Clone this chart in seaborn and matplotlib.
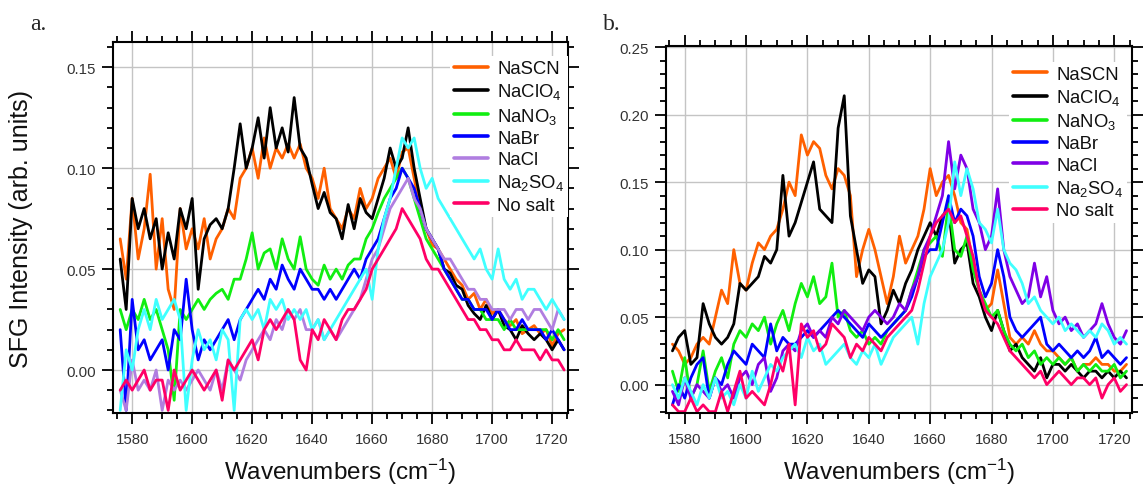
import numpy as np
import pandas as pd
import matplotlib
matplotlib.use("Agg")
import matplotlib.pyplot as plt
from matplotlib.lines import Line2D
from matplotlib.ticker import MultipleLocator, FormatStrFormatter
import seaborn as sns

# Sampled wavenumbers (cm^-1)
wavenumber = np.arange(1576, 1725, 2)

salts = ["NaSCN", "NaClO$_4$", "NaNO$_3$", "NaBr", "NaCl", "Na$_2$SO$_4$", "No salt"]

# ---- Panel a: SFG intensity, in 1e-3 arb. units ----
a_nascn = [65, 45, 85, 55, 70, 97, 50, 75, 40, 30, 80, 60, 70, 60, 75,
           55, 65, 70, 80, 75, 95, 100, 110, 95, 115, 100, 110, 105, 112, 105,
           112, 100, 95, 85, 100, 80, 75, 70, 80, 75, 90, 80, 85, 95, 100,
           105, 95, 108, 110, 95, 80, 70, 62, 60, 55, 50, 45, 42, 35, 38,
           30, 35, 28, 30, 25, 22, 25, 18, 20, 22, 18, 20, 12, 18, 20]
a_naclo4 = [55, 30, 85, 70, 80, 65, 75, 50, 68, 55, 80, 70, 85, 40, 65,
            72, 75, 70, 80, 100, 122, 100, 110, 125, 105, 130, 110, 120, 108, 135,
            110, 105, 92, 80, 88, 78, 75, 65, 82, 70, 85, 78, 75, 85, 95,
            110, 100, 105, 120, 100, 85, 70, 65, 60, 50, 48, 42, 40, 32, 28,
            25, 32, 25, 30, 22, 20, 15, 22, 18, 15, 18, 15, 10, 15, 10]
a_nano3 = [30, 20, 30, 25, 35, 25, 30, 20, 10, -15, 30, 25, 30, 35, 30,
           35, 38, 40, 35, 45, 45, 55, 68, 50, 58, 60, 50, 65, 55, 50,
           66, 50, 45, 42, 52, 45, 50, 45, 52, 55, 55, 65, 70, 78, 85,
           90, 95, 100, 95, 85, 75, 65, 60, 55, 50, 45, 40, 35, 35, 30,
           30, 25, 25, 25, 20, 25, 20, 20, 20, 20, 20, 20, 15, 20, 15]
a_nabr = [20, -20, 35, 10, 15, 5, 10, 15, 0, 20, 15, 45, 20, 5, 15,
          10, 15, 20, 25, 15, 25, 30, 35, 40, 35, 45, 40, 52, 45, 40,
          50, 45, 40, 40, 35, 40, 35, 40, 45, 50, 45, 55, 60, 65, 75,
          85, 90, 100, 95, 90, 80, 70, 65, 60, 50, 45, 40, 35, 35, 30,
          30, 30, 25, 30, 25, 20, 20, 25, 20, 20, 20, 15, 20, 15, 10]
a_nacl = [-10, -20, 5, -10, -5, -10, 0, -20, -5, -10, -5, -10, -5, 0, -5,
          -10, 0, -10, 5, 0, -5, 5, 10, 15, 20, 15, 25, 20, 30, 25,
          30, 20, 20, 25, 15, 20, 15, 20, 25, 30, 35, 45, 55, 60, 70,
          80, 85, 90, 95, 85, 80, 70, 65, 60, 55, 55, 50, 45, 40, 40,
          35, 35, 30, 30, 30, 25, 30, 30, 25, 30, 30, 25, 20, 30, 25]
a_na2so4 = [-20, 10, 0, 20, 30, 20, 35, 25, 30, 35, 25, -20, 5, 20, 10,
            15, 5, 20, 15, -20, 25, 30, 25, 30, 20, 35, 30, 35, 25, 30,
            25, 30, 20, 25, 15, 20, 25, 30, 35, 40, 45, 50, 35, 60, 75,
            85, 100, 115, 110, 115, 100, 90, 95, 85, 80, 75, 70, 65, 60, 55,
            60, 50, 45, 60, 45, 40, 45, 35, 40, 40, 35, 30, 35, 30, 25]
a_nosalt = [-10, -5, -10, -5, 0, -10, -5, -5, -20, 0, -10, -5, 0, -5, -10,
            -5, 0, -15, 5, 0, 5, 10, 15, 5, 20, 25, 20, 25, 30, 25,
            5, 0, 20, 15, 25, 20, 15, 25, 30, 30, 35, 40, 50, 55, 60,
            65, 70, 80, 75, 70, 65, 55, 50, 50, 45, 40, 35, 30, 25, 25,
            20, 20, 15, 15, 10, 10, 15, 10, 10, 10, 5, 10, 5, 5, 0]

# ---- Panel b: SFG intensity, in 1e-3 arb. units ----
b_nascn = [30, 25, 15, 20, 30, 35, 30, 50, 70, 60, 100, 75, 70, 90, 105,
           100, 110, 115, 130, 150, 140, 185, 170, 180, 175, 155, 145, 160, 155, 140,
           80, 100, 115, 100, 80, 60, 80, 110, 90, 100, 110, 130, 160, 140, 150,
           155, 140, 120, 115, 90, 70, 55, 60, 85, 60, 35, 30, 35, 30, 40,
           30, 25, 25, 20, 15, 20, 10, 15, 15, 20, 15, 15, 10, 10, 15]
b_naclo4 = [25, 35, 40, 15, 20, 60, 45, 35, 30, 35, 45, 75, 70, 75, 80,
            95, 90, 100, 155, 110, 120, 135, 150, 165, 130, 125, 120, 190, 214, 125,
            100, 75, 85, 80, 45, 55, 70, 60, 75, 85, 100, 110, 120, 110, 125,
            130, 90, 100, 105, 75, 65, 50, 40, 55, 40, 25, 30, 20, 15, 10,
            20, 5, 15, 15, 10, 15, 10, 5, 10, 10, 5, 10, 5, 10, 5]
b_nano3 = [10, -5, 20, -10, 0, 25, -5, 10, 20, 5, 30, 40, 35, 45, 40,
           50, 30, 45, 55, 40, 60, 75, 65, 80, 60, 65, 90, 50, 55, 40,
           35, 40, 30, 35, 30, 40, 45, 50, 55, 70, 85, 100, 105, 110, 95,
           135, 100, 95, 110, 85, 70, 60, 50, 55, 40, 30, 25, 30, 20, 25,
           15, 20, 15, 20, 15, 20, 10, 15, 10, 15, 10, 10, 15, 5, 10]
b_nabr = [-15, 0, -10, 5, 15, 20, -10, 5, 0, 15, 25, 20, 15, 30, 25,
          20, 45, 25, 35, 30, 30, 35, 40, 35, 40, 45, 50, 55, 50, 45,
          40, 35, 45, 40, 35, 40, 45, 50, 55, 65, 80, 95, 100, 100, 120,
          140, 120, 130, 125, 110, 80, 65, 75, 100, 80, 50, 40, 35, 40, 45,
          50, 30, 25, 30, 25, 20, 25, 20, 25, 35, 20, 25, 20, 15, 20]
b_nacl = [-5, -15, 5, -10, 0, -5, -10, 5, -5, 0, -10, 5, 10, 0, 15,
          20, -5, 5, 25, 30, 25, 40, 45, 35, 40, 35, 50, 45, 55, 50,
          45, 40, 50, 55, 50, 45, 50, 60, 55, 70, 80, 100, 110, 125, 140,
          180, 145, 170, 160, 130, 120, 100, 110, 145, 100, 80, 70, 60, 65, 90,
          65, 80, 55, 45, 50, 40, 45, 35, 40, 45, 60, 45, 35, 30, 40]
b_na2so4 = [0, -10, 5, -5, -15, 0, -10, 5, -10, -5, -15, 0, -10, 10, -5,
            5, 15, 10, 20, 25, 30, 20, 35, 25, 30, 15, 20, 25, 30, 20,
            15, 25, 20, 30, 15, 25, 35, 40, 45, 50, 30, 60, 80, 90, 100,
            120, 165, 140, 160, 145, 120, 115, 105, 130, 100, 90, 85, 75, 60, 65,
            55, 50, 45, 50, 40, 45, 40, 35, 40, 35, 45, 40, 30, 35, 30]
b_nosalt = [-15, -20, -20, -10, -20, -15, -20, -20, -5, -20, -5, 10, -10, -5, -10,
            -15, 0, 20, 10, 30, -15, 45, 35, 40, 25, 30, 45, 40, 35, 20,
            30, 25, 35, 30, 25, 35, 40, 45, 50, 55, 70, 90, 110, 120, 125,
            130, 120, 125, 110, 95, 70, 55, 50, 45, 35, 25, 20, 15, 10, 5,
            10, 0, 5, 10, 5, 0, 5, 5, 0, 5, -10, 0, 5, -5, 0]

colors_a = ["#ff6000", "#000000", "#11ee11", "#0000ff", "#b07ee0", "#40ffff", "#ff0066"]
colors_b = ["#ff6000", "#000000", "#11ee11", "#0000ff", "#7f00e6", "#40ffff", "#ff0066"]

panel_a = [a_nascn, a_naclo4, a_nano3, a_nabr, a_nacl, a_na2so4, a_nosalt]
panel_b = [b_nascn, b_naclo4, b_nano3, b_nabr, b_nacl, b_na2so4, b_nosalt]


def long_frame(series):
    rows = []
    for salt, vals in zip(salts, series):
        rows.append(pd.DataFrame({"wavenumber": wavenumber,
                                  "intensity": np.asarray(vals) / 1000.0,
                                  "salt": salt}))
    return pd.concat(rows, ignore_index=True)


sns.set_style("white")
plt.rcParams["font.family"] = ["Liberation Sans", "DejaVu Sans"]
plt.rcParams["mathtext.fontset"] = "custom"
plt.rcParams["mathtext.rm"] = "Liberation Sans"
plt.rcParams["mathtext.it"] = "Liberation Sans:italic"
plt.rcParams["mathtext.default"] = "regular"

fig = plt.figure(figsize=(11.44, 4.89), dpi=100)
ax_a = fig.add_axes([0.0985, 0.1534, 0.3983, 0.7581])
ax_b = fig.add_axes([0.5819, 0.1534, 0.4079, 0.7515])


def draw_panel(ax, series, colors, xlim, ylim, yticks, legend_anchor):
    df = long_frame(series)
    sns.lineplot(data=df, x="wavenumber", y="intensity", hue="salt",
                 hue_order=salts, palette=dict(zip(salts, colors)),
                 estimator=None, sort=False, linewidth=2.0, legend=False, ax=ax)
    ax.set_xlim(*xlim)
    ax.set_ylim(*ylim)
    ax.xaxis.set_major_locator(MultipleLocator(20))
    ax.xaxis.set_minor_locator(MultipleLocator(5))
    ax.set_yticks(yticks)
    ax.yaxis.set_minor_locator(MultipleLocator(0.01))
    ax.yaxis.set_major_formatter(FormatStrFormatter("%.2f"))
    ax.set_axisbelow(True)
    ax.grid(True, which="major", color="#c4c4c4", linewidth=1.0)
    for s in ax.spines.values():
        s.set_linewidth(1.5)
        s.set_color("black")
    ax.tick_params(which="both", direction="out", top=True, right=True,
                   bottom=True, left=True, labeltop=False, labelright=False,
                   width=1.3, color="black", labelsize=10.8, labelcolor="#333333")
    ax.tick_params(which="major", length=8)
    ax.tick_params(which="minor", length=4.5)
    ax.tick_params(axis="x", which="major", pad=6)
    ax.tick_params(axis="y", which="major", pad=4)
    ax.set_xlabel("Wavenumbers (cm$^{-1}$)", fontsize=17.5, color="#111111")
    ax.xaxis.set_label_coords(0.5, -0.116)
    ax.xaxis.label.set_va("top")
    ax.set_ylabel("")
    handles = [Line2D([], [], color=c, linewidth=2.6) for c in colors]
    leg = ax.legend(handles, salts, loc="upper right", bbox_to_anchor=legend_anchor,
                    frameon=True, fancybox=False, framealpha=1.0, facecolor="white",
                    edgecolor="none", fontsize=13.3, handlelength=1.85,
                    handletextpad=0.5, labelspacing=0.23, borderpad=0.2,
                    borderaxespad=0.0)
    for t in leg.get_texts():
        t.set_color("#111111")


draw_panel(ax_a, panel_a, colors_a, (1573.5, 1725.4), (-0.0213, 0.1624),
           [0.00, 0.05, 0.10, 0.15], (1.0, 0.962))
draw_panel(ax_b, panel_b, colors_b, (1573.8, 1725.9), (-0.021, 0.2512),
           [0.00, 0.05, 0.10, 0.15, 0.20, 0.25], (0.989, 0.955))

ax_a.set_ylabel("SFG Intensity (arb. units)", fontsize=18, color="#111111")
ax_a.yaxis.set_label_coords(-0.202, 0.5)
ax_a.yaxis.label.set_va("center")

fig.text(0.026, 0.939, "a.", fontsize=17, family="Liberation Serif", va="baseline")
fig.text(0.527, 0.939, "b.", fontsize=17, family="Liberation Serif", va="baseline")

fig.savefig("out.png", dpi=100)
